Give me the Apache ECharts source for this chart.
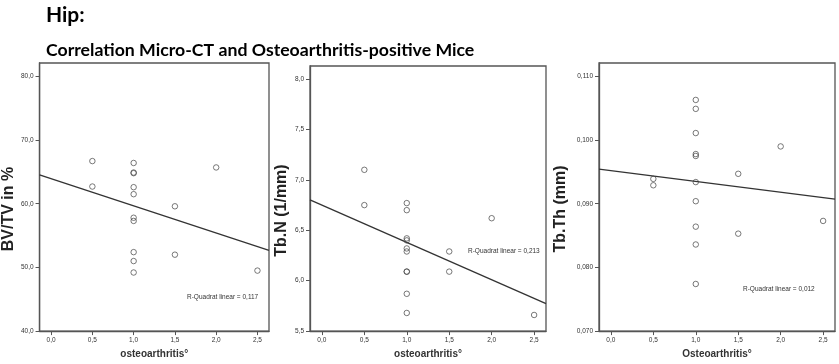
<!DOCTYPE html>
<html>
<head>
<meta charset="utf-8">
<script src="https://cdn.jsdelivr.net/npm/echarts@6/dist/echarts.min.js"></script>
<style>
  html, body { margin: 0; padding: 0; background: #fff; }
  #chart { width: 839px; height: 364px; }
</style>
</head>
<body>
<div id="chart"></div>
<script>
// osteoarthritis grade per mouse (x)
const oaGrade = [0.5, 0.5, 1, 1, 1, 1, 1, 1, 1, 1, 1, 1, 1.5, 1.5, 2, 2.5];
// micro-CT values per mouse
const bvtv = [66.7, 62.7, 66.4, 64.9, 64.8, 62.6, 61.5, 57.8, 57.3, 52.4, 51.0, 49.2, 59.6, 52.0, 65.7, 49.5];
const tbn = [7.10, 6.75, 6.77, 6.70, 6.42, 6.40, 6.32, 6.29, 6.09, 6.09, 5.87, 5.68, 6.29, 6.09, 6.62, 5.66];
const tbth = [0.0939, 0.0929, 0.1063, 0.1049, 0.1011, 0.0978, 0.0975, 0.0934, 0.0904, 0.0864, 0.0836, 0.0774, 0.0947, 0.0853, 0.0990, 0.0873];

const xTicks = [0, 0.5, 1, 1.5, 2, 2.5];
const bvtvTicks = [40, 50, 60, 70, 80];
const tbnTicks = [5.5, 6.0, 6.5, 7.0, 7.5, 8.0];
const tbthTicks = [0.07, 0.08, 0.09, 0.10, 0.11];

const yNames = ['BV/TV in %', 'Tb.N (1/mm)', 'Tb.Th (mm)'];
const xNames = ['osteoarthritis°', 'osteoarthritis°', 'Osteoarthritis°'];
const rSquared = ['0,117', '0,213', '0,012'];

const panels = [
  { y: bvtv, ticks: bvtvTicks, min: 40, max: 82.1, dec: 1, grid: { left: 37, top: 63, width: 232, height: 270 }, gap: 19, r2: { left: 187, top: 294 } },
  { y: tbn, ticks: tbnTicks, min: 5.5, max: 8.13, dec: 1, grid: { left: 310, top: 66, width: 236, height: 267 }, gap: 20, r2: { left: 468, top: 248 } },
  { y: tbth, ticks: tbthTicks, min: 0.07, max: 0.1121, dec: 3, grid: { left: 599, top: 63, width: 236, height: 271 }, gap: 30, r2: { left: 743, top: 286 } }
];
const xMin = -0.14, xMax = 2.64;

const dark = '#333';
const frame = '#555';
const comma = (v, d) => v.toFixed(d).replace('.', ',');

// least squares fit line
function fit(xs, ys) {
  const n = xs.length;
  const mx = xs.reduce((a, b) => a + b, 0) / n;
  const my = ys.reduce((a, b) => a + b, 0) / n;
  let sxy = 0, sxx = 0;
  for (let i = 0; i < n; i++) {
    sxy += (xs[i] - mx) * (ys[i] - my);
    sxx += (xs[i] - mx) * (xs[i] - mx);
  }
  const b = sxy / sxx;
  const a = my - b * mx;
  return x => a + b * x;
}

const chart = echarts.init(document.getElementById('chart'), null, { renderer: 'canvas' });

const grid = [], xAxis = [], yAxis = [], series = [], graphic = [];

panels.forEach((p, i) => {
  grid.push(Object.assign({ show: true, borderColor: frame, borderWidth: 1.3, backgroundColor: '#fff' }, p.grid));
  xAxis.push({
    type: 'value', gridIndex: i, min: xMin, max: xMax,
    name: xNames[i], nameLocation: 'middle', nameGap: 16,
    nameTextStyle: { fontFamily: 'Liberation Sans', fontWeight: 'bold', fontSize: 10, color: dark },
    axisLine: { show: true, onZero: false, lineStyle: { color: frame, width: 1.3 } },
    axisTick: { show: true, length: 4, customValues: xTicks, lineStyle: { color: frame } },
    axisLabel: { customValues: xTicks, margin: 6, fontSize: 6.5, color: dark, fontFamily: 'Liberation Sans', formatter: v => comma(v, 1) },
    splitLine: { show: false }
  });
  yAxis.push({
    type: 'value', gridIndex: i, min: p.min, max: p.max,
    name: yNames[i], nameLocation: 'middle', nameGap: p.gap, nameRotate: 90,
    nameTextStyle: { fontFamily: 'Liberation Sans', fontWeight: 'bold', fontSize: 16, color: '#222', padding: [0, 24, 0, 0] },
    axisLine: { show: true, onZero: false, lineStyle: { color: frame, width: 1.3 } },
    axisTick: { show: true, length: 4, customValues: p.ticks, lineStyle: { color: frame } },
    axisLabel: { customValues: p.ticks, margin: 6, fontSize: 6.5, color: dark, fontFamily: 'Liberation Sans', formatter: v => comma(v, p.dec) },
    splitLine: { show: false }
  });
  series.push({
    type: 'scatter', xAxisIndex: i, yAxisIndex: i,
    symbol: 'circle', symbolSize: 5.5,
    itemStyle: { color: 'rgba(255,255,255,0)', borderColor: '#444', borderWidth: 0.9 },
    data: oaGrade.map((x, k) => [x, p.y[k]]),
    z: 3
  });
  const f = fit(oaGrade, p.y);
  series.push({
    type: 'line', xAxisIndex: i, yAxisIndex: i,
    symbol: 'none', silent: true,
    lineStyle: { color: dark, width: 1.3 },
    data: [[xMin, f(xMin)], [xMax, f(xMax)]],
    z: 2
  });
  graphic.push({
    type: 'text', left: p.r2.left, top: p.r2.top,
    style: { text: 'R-Quadrat linear = ' + rSquared[i], fontSize: 6.5, fontFamily: 'Liberation Sans', fill: dark }
  });
});

chart.setOption({
  animation: false,
  title: [
    { text: 'Hip:', left: 41, top: 0, textStyle: { fontFamily: 'Lato', fontWeight: 'bold', fontSize: 21, color: '#000' } },
    { text: 'Correlation Micro-CT and Osteoarthritis-positive Mice', left: 41, top: 36, textStyle: { fontFamily: 'Lato', fontWeight: 'bold', fontSize: 17.7, color: '#000' } }
  ],
  grid, xAxis, yAxis, series, graphic
});
</script>
</body>
</html>
